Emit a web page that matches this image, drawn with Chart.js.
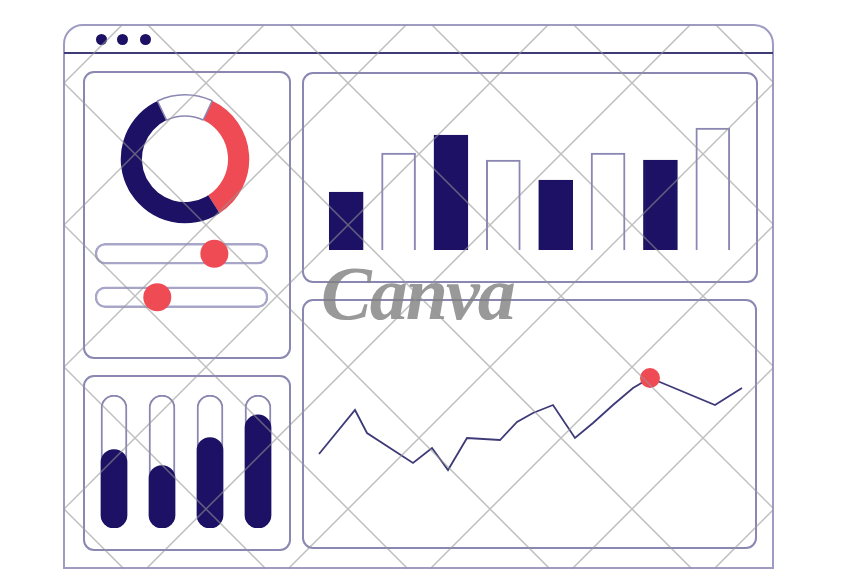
<!DOCTYPE html>
<html>
<head>
<meta charset="utf-8">
<script src="https://cdn.jsdelivr.net/npm/chart.js@4.4.1/dist/chart.umd.min.js"></script>
<style>
  html, body { margin: 0; padding: 0; background: #fff; }
  #stage { position: relative; width: 852px; height: 588px; overflow: hidden; }
  .abs { position: absolute; box-sizing: border-box; }
  .panel { border: 2px solid #8a87b3; border-radius: 11px; }
  .dot { width: 11px; height: 11px; border-radius: 50%; background: #1c1164; }
  canvas { position: absolute; }
  #watermark {
    position: absolute; left: 321px; top: 250px;
    font: italic bold 76px "Liberation Serif", serif;
    color: #808080; opacity: 0.8; letter-spacing: -2px;
  }
</style>
</head>
<body>
<div id="stage">
  <!-- browser window -->
  <div class="abs" style="left:63px;top:24px;width:711px;height:545px;border:2px solid #9f9cc4;border-radius:20px 20px 0 0;"></div>
  <div class="abs" style="left:64px;top:52px;width:709px;height:2px;background:#3f3b78;"></div>
  <div class="abs dot" style="left:96px;top:34px;"></div>
  <div class="abs dot" style="left:117px;top:34px;"></div>
  <div class="abs dot" style="left:140px;top:34px;"></div>

  <!-- panels -->
  <div class="abs panel" style="left:83px;top:71px;width:208px;height:288px;"></div>
  <div class="abs panel" style="left:83px;top:375px;width:208px;height:176px;"></div>
  <div class="abs panel" style="left:302px;top:72px;width:456px;height:211px;"></div>
  <div class="abs panel" style="left:302px;top:299px;width:455px;height:250px;"></div>

  <canvas id="donut" width="130" height="130" style="left:120px;top:94px;"></canvas>
  <canvas id="sliders" width="173" height="87" style="left:95px;top:232px;"></canvas>
  <canvas id="tubes" width="192" height="133" style="left:90px;top:395px;"></canvas>
  <canvas id="bars" width="419" height="130" style="left:320px;top:120px;"></canvas>
  <canvas id="line" width="454" height="249" style="left:302px;top:299px;"></canvas>

  <div id="watermark">Canva</div>
  <canvas id="lattice" width="711" height="545" style="left:63px;top:24px;"></canvas>
</div>

<script>
const NAVY = '#1c1164';
const RED = '#ef4b55';
const OUTLINE = '#8a87b3';

// donut: red part, navy part, empty gap
const donutLabels = ['Red', 'Navy', 'Empty'];
const donutValues = [34, 52, 14];

// two sliders (knob position in %)
const sliderLabels = ['Slider 1', 'Slider 2'];
const sliderValues = [69, 36];

// four vertical level tubes (fill in %)
const tubeLabels = ['T1', 'T2', 'T3', 'T4'];
const tubeValues = [59, 47, 68, 85];

// top bar chart
const barLabels = ['1', '2', '3', '4', '5', '6', '7', '8'];
const barValues = [58, 97, 115, 90, 70, 97, 90, 122];

// line chart
const lineX = [0, 36, 48, 94, 113, 129, 148, 181, 198, 214, 234, 256, 274, 294, 314, 331, 348, 396, 423];
const lineY = [46, 90, 67, 37, 52, 30, 62, 60, 78, 87, 95, 62, 77, 95, 112, 122, 115, 95, 112];
const highlightIndex = 15;

Chart.defaults.animation = false;
Chart.defaults.responsive = false;
Chart.defaults.plugins.legend.display = false;
Chart.defaults.plugins.tooltip.enabled = false;
Chart.defaults.layout.padding = 0;
Chart.defaults.layout.autoPadding = false;

const hidden = { display: false, grid: { display: false } };

new Chart(document.getElementById('donut'), {
    type: 'doughnut',
    data: {
        labels: donutLabels,
        datasets: [{
            data: donutValues,
            backgroundColor: [RED, NAVY, '#ffffff'],
            borderColor: ['#ffffff', '#ffffff', OUTLINE],
            borderWidth: [0, 0, 1.5]
        }]
    },
    options: { rotation: 25, cutout: '67%' }
});

new Chart(document.getElementById('sliders'), {
    data: {
        labels: sliderLabels,
        datasets: [
            {
                type: 'scatter',
                data: sliderLabels.map((l, i) => ({ x: sliderValues[i], y: l })),
                backgroundColor: RED,
                pointRadius: 14,
                pointBorderWidth: 0,
                clip: false,
                order: 0
            },
            {
                type: 'bar',
                data: sliderLabels.map(() => 100),
                backgroundColor: '#ffffff',
                borderColor: '#a8a6c8',
                borderWidth: 2.5,
                borderRadius: 11,
                borderSkipped: false,
                barThickness: 21,
                order: 1
            }
        ]
    },
    options: {
        indexAxis: 'y',
        scales: {
            x: { ...hidden, type: 'linear', min: 0, max: 100 },
            y: { ...hidden, type: 'category' }
        }
    }
});

new Chart(document.getElementById('tubes'), {
    type: 'bar',
    data: {
        labels: tubeLabels,
        datasets: [
            {
                data: tubeValues,
                backgroundColor: NAVY,
                borderRadius: 13,
                borderSkipped: false,
                barThickness: 26,
                grouped: false,
                order: 0
            },
            {
                data: tubeLabels.map(() => 100),
                backgroundColor: '#ffffff',
                borderColor: OUTLINE,
                borderWidth: 2,
                borderRadius: 13,
                borderSkipped: false,
                barThickness: 26,
                grouped: false,
                order: 1
            }
        ]
    },
    options: {
        scales: {
            x: hidden,
            y: { ...hidden, min: 0, max: 100 }
        }
    }
});

new Chart(document.getElementById('bars'), {
    type: 'bar',
    data: {
        labels: barLabels,
        datasets: [{
            data: barValues,
            backgroundColor: barValues.map((v, i) => i % 2 === 0 ? NAVY : '#ffffff'),
            borderColor: barValues.map((v, i) => i % 2 === 0 ? NAVY : OUTLINE),
            borderWidth: 2,
            barThickness: 34
        }]
    },
    options: {
        scales: {
            x: hidden,
            y: { ...hidden, min: 0, max: 130 }
        }
    }
});

new Chart(document.getElementById('line'), {
    type: 'line',
    data: {
        datasets: [{
            data: lineX.map((x, i) => ({ x: x, y: lineY[i] })),
            borderColor: '#3e3a78',
            borderWidth: 1.8,
            tension: 0,
            pointRadius: lineX.map((x, i) => i === highlightIndex ? 10 : 0),
            pointBackgroundColor: RED,
            pointBorderWidth: 0
        }]
    },
    options: {
        scales: {
            x: { ...hidden, type: 'linear', min: -17, max: 437 },
            y: { ...hidden, min: -48, max: 201 }
        }
    }
});

// diagonal watermark lattice over the window (decoration, not data)
(function drawLattice() {
    const c = document.getElementById('lattice');
    const ctx = c.getContext('2d');
    const ox = 63, oy = 24, w = c.width, h = c.height;
    ctx.save();
    ctx.beginPath();
    ctx.roundRect(1, 1, w - 2, h - 1, [20, 20, 0, 0]);
    ctx.clip();
    ctx.strokeStyle = 'rgba(150,150,150,0.6)';
    ctx.lineWidth = 1.5;
    ctx.beginPath();
    for (let k = -10; k < 20; k++) {
        const a = 123 + 142 * k - ox + oy;   // page x - y = 123 + 142k
        const b = 5 + 142 * k - ox - oy;     // page x + y = 5 + 142k
        ctx.moveTo(a - 100, -100);
        ctx.lineTo(a + h + 100, h + 100);
        ctx.moveTo(b + 100, -100);
        ctx.lineTo(b - h - 100, h + 100);
    }
    ctx.stroke();
    ctx.restore();
})();
</script>
</body>
</html>
